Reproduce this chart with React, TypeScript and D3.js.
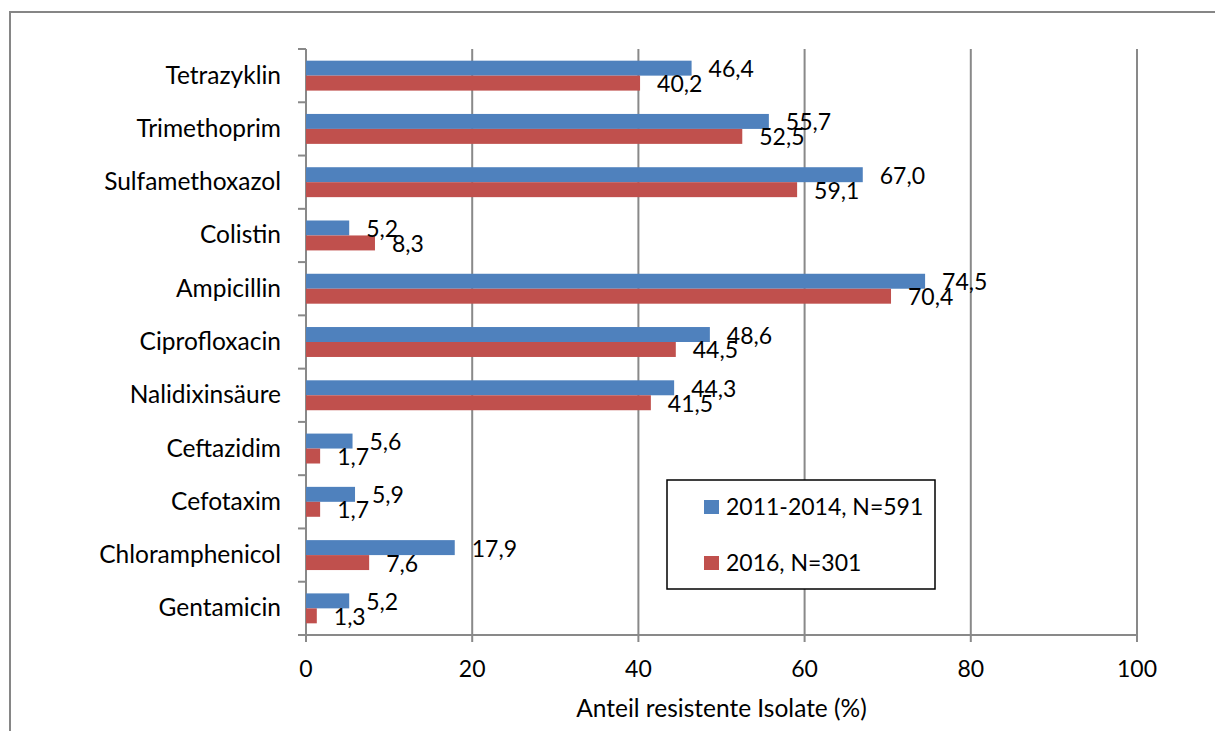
import React from "react";
import * as d3 from "d3";

const categories = [
  "Tetrazyklin",
  "Trimethoprim",
  "Sulfamethoxazol",
  "Colistin",
  "Ampicillin",
  "Ciprofloxacin",
  "Nalidixinsäure",
  "Ceftazidim",
  "Cefotaxim",
  "Chloramphenicol",
  "Gentamicin",
];
const series2011 = [46.4, 55.7, 67.0, 5.2, 74.5, 48.6, 44.3, 5.6, 5.9, 17.9, 5.2];
const series2016 = [40.2, 52.5, 59.1, 8.3, 70.4, 44.5, 41.5, 1.7, 1.7, 7.6, 1.3];
const seriesNames = ["2011-2014, N=591", "2016, N=301"];
const xTicks = [0, 20, 40, 60, 80, 100];
const xTitle = "Anteil resistente Isolate (%)";

const W = 1215;
const H = 731;
const FONT = "Lato, 'Open Sans', sans-serif";
const FS = 23;
const FS_TXT = 24.5;
const BLUE = "#4F81BD";
const RED = "#C0504D";
const GRID = "#898989";

export default function App() {
  const left = 306;
  const right = 1137;
  const top = 49;
  const bottom = 635;

  const x = d3.scaleLinear().domain([0, 100]).range([left, right]);
  const y = d3.scaleBand<string>().domain(categories).range([top, bottom]);
  const inner = d3
    .scaleBand<number>()
    .domain([0, 1])
    .range([0, y.bandwidth()])
    .paddingInner(0)
    .paddingOuter(0.78);

  const fmt = (v: number) => d3.format(".1f")(v).replace(".", ",");
  const seriesList = [series2011, series2016];
  const colors = [BLUE, RED];

  const boundaries = d3.range(categories.length + 1).map((i) => top + i * y.step());

  return (
    <svg
      width={W}
      height={H}
      style={{ position: "absolute", left: 0, top: 0, background: "#fff" }}
      fontFamily={FONT}
    >
      <rect x={0} y={0} width={W} height={H} fill="#fff" />
      <rect x={10} y={12} width={W + 20} height={H + 20} fill="none" stroke="#868686" strokeWidth={2} />

      {xTicks.slice(1).map((t) => (
        <line key={"g" + t} x1={x(t)} x2={x(t)} y1={top} y2={bottom + 7} stroke={GRID} strokeWidth={2} />
      ))}
      <line x1={left - 8} x2={right} y1={bottom} y2={bottom} stroke={GRID} strokeWidth={2} />
      <line x1={left} x2={left} y1={top} y2={bottom + 7} stroke={GRID} strokeWidth={2} />
      {boundaries.map((b, i) => (
        <line key={"yt" + i} x1={left - 8} x2={left} y1={b} y2={b} stroke={GRID} strokeWidth={2} />
      ))}

      {seriesList.map((s, si) =>
        s.map((v, i) => (
          <rect
            key={`b${si}-${i}`}
            x={x(0)}
            y={(y(categories[i]) as number) + (inner(si) as number)}
            width={x(v) - x(0)}
            height={inner.bandwidth()}
            fill={colors[si]}
          />
        ))
      )}

      {seriesList.map((s, si) =>
        s.map((v, i) => (
          <text
            key={`l${si}-${i}`}
            x={x(v) + 17}
            y={(y(categories[i]) as number) + (inner(si) as number) + inner.bandwidth() / 2 + 9}
            fontSize={FS}
            fill="#000"
          >
            {fmt(v)}
          </text>
        ))
      )}

      {categories.map((c) => (
        <text
          key={"c" + c}
          x={281}
          y={(y(c) as number) + y.bandwidth() / 2 + 8}
          fontSize={FS_TXT}
          textAnchor="end"
          fill="#000"
        >
          {c}
        </text>
      ))}

      {xTicks.map((t) => (
        <text key={"xt" + t} x={x(t)} y={677} fontSize={FS} textAnchor="middle" fill="#000">
          {t}
        </text>
      ))}
      <text x={(left + right) / 2} y={717} fontSize={FS_TXT} textAnchor="middle" fill="#000">
        {xTitle}
      </text>

      <rect x={667} y={480} width={268} height={109} fill="#fff" stroke="#000" strokeWidth={1.5} />
      {seriesNames.map((n, i) => (
        <g key={"lg" + i}>
          <rect x={704} y={500 + i * 56} width={15} height={14} fill={colors[i]} />
          <text x={726} y={515 + i * 56} fontSize={FS} fill="#000">
            {n}
          </text>
        </g>
      ))}
    </svg>
  );
}
